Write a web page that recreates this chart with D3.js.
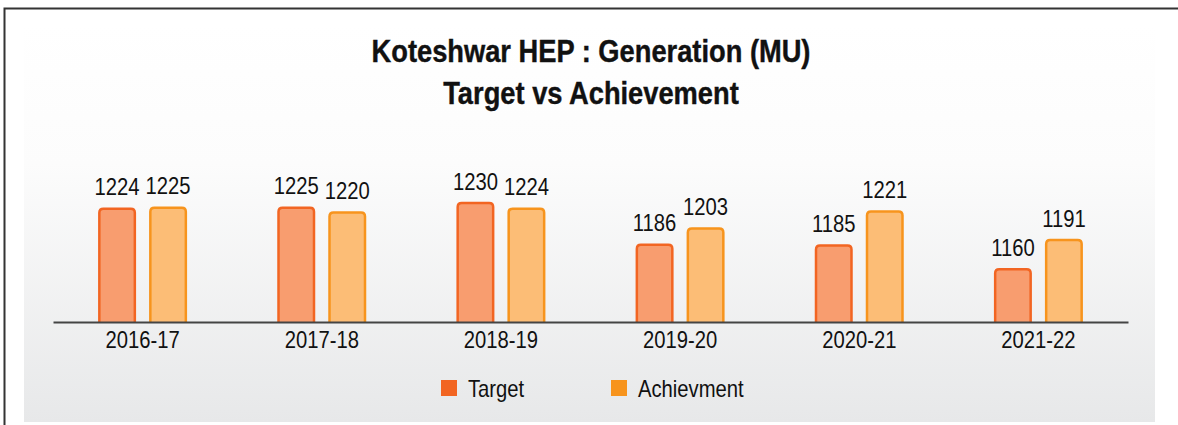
<!DOCTYPE html>
<html>
<head>
<meta charset="utf-8">
<script src="https://cdn.jsdelivr.net/npm/d3@7"></script>
<style>
  body { margin: 0; background: #fff; }
  svg { display: block; }
  text { font-family: "Liberation Sans", Arial, sans-serif; fill: #111; }
</style>
</head>
<body>
<div id="chart"></div>
<script>
// data
var years = ["2016-17", "2017-18", "2018-19", "2019-20", "2020-21", "2021-22"];
var target = [1224, 1225, 1230, 1186, 1185, 1160];
var achievement = [1225, 1220, 1224, 1203, 1221, 1191];
var seriesNames = ["Target", "Achievment"];

var width = 1178, height = 425;
var baseY = 322;
var narrow = " scale(0.88,1)"; // fake a condensed face

var svg = d3.select("#chart").append("svg")
  .attr("width", width)
  .attr("height", height);

// soft grey panel behind the chart
var grad = svg.append("defs").append("linearGradient")
  .attr("id", "bg").attr("x1", 0).attr("y1", 0).attr("x2", 0).attr("y2", 1);
grad.append("stop").attr("offset", "0%").attr("stop-color", "#ffffff");
grad.append("stop").attr("offset", "35%").attr("stop-color", "#fcfcfc");
grad.append("stop").attr("offset", "100%").attr("stop-color", "#e7e8e9");

svg.append("rect")
  .attr("x", 24).attr("y", 25)
  .attr("width", 1155 - 24).attr("height", 422 - 25)
  .attr("fill", "url(#bg)");

// frame lines top and left
svg.append("path")
  .attr("d", "M4.5,425 V8.5 H1178")
  .attr("fill", "none")
  .attr("stroke", "#333")
  .attr("stroke-width", 2);

// title
var titles = ["Koteshwar HEP : Generation (MU)", "Target vs Achievement"];
svg.append("g").selectAll("text")
  .data(titles)
  .enter()
  .append("text")
  .attr("transform", (d, i) => "translate(591," + (62 + i * 42) + ")" + narrow)
  .attr("text-anchor", "middle")
  .style("font-size", "31px").style("font-weight", "bold")
  .attr("stroke", "#111").attr("stroke-width", 0.4)
  .text(d => d);

var x = d3.scaleBand().domain(years).range([53, 1128]);
var inner = d3.scaleBand().domain(seriesNames).range([-44.5, 44.5]).paddingInner(0.255).paddingOuter(0);
var y = d3.scaleLinear().domain([1103, 1230]).range([baseY, 201.7]);

var fills = ["#f89d6f", "#fcbd76"];
var strokes = ["#f26522", "#f7941d"];

var data = [];
years.forEach(function(yr, i) {
  data.push({ year: yr, s: 0, v: target[i] });
  data.push({ year: yr, s: 1, v: achievement[i] });
});

function barLeft(d) {
  return x(d.year) + x.bandwidth() / 2 + inner(seriesNames[d.s]);
}

function barPath(d) {
  var x0 = barLeft(d) + 1.25;
  var w = inner.bandwidth() - 2.5;
  var top = y(d.v) + 1.25;
  var r = 4;
  return "M" + x0 + "," + baseY +
    "V" + (top + r) +
    "Q" + x0 + "," + top + " " + (x0 + r) + "," + top +
    "H" + (x0 + w - r) +
    "Q" + (x0 + w) + "," + top + " " + (x0 + w) + "," + (top + r) +
    "V" + baseY;
}

svg.append("g").selectAll("path")
  .data(data)
  .enter()
  .append("path")
  .attr("d", barPath)
  .attr("fill", d => fills[d.s])
  .attr("stroke", d => strokes[d.s])
  .attr("stroke-width", 2.5)
  .attr("stroke-linejoin", "round");

// value labels
svg.append("g").selectAll("text")
  .data(data)
  .enter()
  .append("text")
  .attr("transform", d => "translate(" + (barLeft(d) + inner.bandwidth() / 2) + "," + (y(d.v) - 12) + ")" + narrow)
  .attr("text-anchor", "middle")
  .style("font-size", "23px")
  .text(d => d.v);

// baseline + category labels
var xAxis = svg.append("g")
  .attr("transform", "translate(0," + baseY + ")")
  .call(d3.axisBottom(x).tickSize(0).tickPadding(10));
xAxis.select(".domain").attr("stroke", "#444").attr("stroke-width", 2);
xAxis.selectAll("text")
  .attr("transform", narrow)
  .style("font-size", "23px")
  .style("font-family", "'Liberation Sans', Arial, sans-serif")
  .attr("fill", "#111");

// legend
var legendX = [441, 611];
var legend = svg.append("g").selectAll("g")
  .data(seriesNames)
  .enter()
  .append("g")
  .attr("transform", (d, i) => "translate(" + legendX[i] + ",380)");
legend.append("rect")
  .attr("width", 16).attr("height", 16)
  .attr("fill", (d, i) => strokes[i]);
legend.append("text")
  .attr("transform", "translate(27,17)" + narrow)
  .style("font-size", "23px")
  .text(d => d);
</script>
</body>
</html>
